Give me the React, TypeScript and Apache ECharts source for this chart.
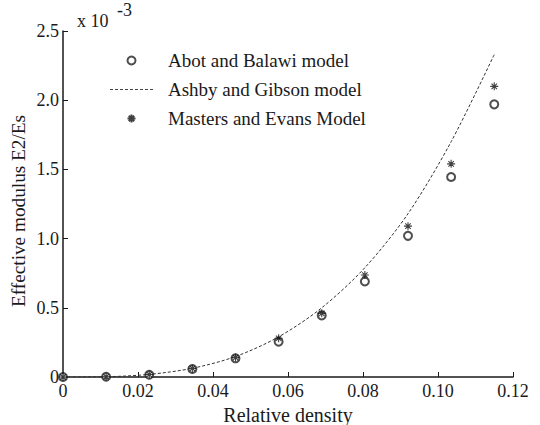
import React, { useEffect, useRef } from "react";
import * as echarts from "echarts";

const density = [0, 0.0115, 0.023, 0.0345, 0.046, 0.0575, 0.069, 0.0805, 0.092, 0.1035, 0.115];
const abotBalawi = [0, 0.002, 0.016, 0.058, 0.135, 0.255, 0.445, 0.69, 1.02, 1.445, 1.97];
const ashbyGibson = [0, 0.002, 0.019, 0.063, 0.148, 0.29, 0.5, 0.79, 1.18, 1.7, 2.33];
const mastersEvans = [0, 0.002, 0.018, 0.062, 0.14, 0.28, 0.46, 0.737, 1.09, 1.54, 2.1];

const seriesNames = ["Abot and Balawi model", "Ashby and Gibson model", "Masters and Evans Model"];
const xAxisName = "Relative density";
const yAxisName = "Effective modulus E2/Es";

const FONT = "Liberation Serif, serif";
const INK = "#1a1a1a";

const starPath = "path://M5 0 L5 10 M0 5 L10 5 M1.6 1.6 L8.4 8.4 M1.6 8.4 L8.4 1.6";
const dashIcon =
  "path://M0 0h3v1h-3z M5 0h3v1h-3z M10 0h3v1h-3z M15 0h3v1h-3z M20 0h3v1h-3z M25 0h3v1h-3z M30 0h3v1h-3z M35 0h3v1h-3z M40 0h3v1h-3z";

export default function App() {
  const ref = useRef<HTMLDivElement>(null);
  useEffect(() => {
    document.body.style.margin = "0";
    if (!ref.current) return;
    const chart = echarts.init(ref.current, null, { renderer: "svg" });
    const pair = (ys: number[]) => density.map((x, i) => [x, ys[i]]);
    chart.setOption({
      animation: false,
      backgroundColor: "#ffffff",
      textStyle: { fontFamily: FONT },
      grid: { left: 63, right: 27, top: 31, bottom: 48, outerBoundsMode: "none", containLabel: false },
      legend: {
        orient: "vertical",
        left: 105,
        top: 46,
        itemWidth: 43,
        itemHeight: 8,
        itemGap: 10,
        data: [
          { name: seriesNames[0] },
          { name: seriesNames[1], icon: dashIcon, itemStyle: { color: "#444" } },
          { name: seriesNames[2] },
        ],
        textStyle: { fontFamily: FONT, fontSize: 19, color: INK, lineHeight: 19, padding: [0, 0, 0, 10] },
      },
      xAxis: {
        type: "value",
        min: 0,
        max: 0.12,
        interval: 0.02,
        name: xAxisName,
        nameLocation: "middle",
        nameGap: 25,
        nameTextStyle: { fontFamily: FONT, fontSize: 20, color: INK },
        axisLine: { lineStyle: { color: INK, width: 1.5 } },
        axisTick: { inside: true, length: 5, lineStyle: { color: INK } },
        axisLabel: {
          fontFamily: FONT,
          fontSize: 18,
          color: INK,
          margin: 5,
          formatter: (v: number) => (v === 0 ? "0" : v.toFixed(2)),
        },
        splitLine: { show: false },
      },
      yAxis: {
        type: "value",
        min: 0,
        max: 2.5,
        interval: 0.5,
        axisLine: { show: true, lineStyle: { color: INK, width: 1.5 } },
        axisTick: { show: true, inside: true, length: 5, lineStyle: { color: INK } },
        axisLabel: {
          fontFamily: FONT,
          fontSize: 18,
          color: INK,
          margin: 4,
          formatter: (v: number) => (v === 0 ? "0" : v.toFixed(1)),
        },
        splitLine: { show: false },
      },
      graphic: [
        { type: "text", left: 77, top: 12, style: { text: "x 10", fontFamily: FONT, fontSize: 18, fill: INK } },
        { type: "text", left: 117, top: 1, style: { text: "-3", fontFamily: FONT, fontSize: 18, fill: INK } },
        {
          type: "text",
          x: 19,
          y: 211,
          rotation: Math.PI / 2,
          scaleX: 1.07,
          style: {
            text: yAxisName,
            fontFamily: FONT,
            fontSize: 18,
            fill: INK,
            align: "center",
            verticalAlign: "middle",
          },
        },
      ],
      series: [
        {
          name: seriesNames[0],
          type: "scatter",
          data: pair(abotBalawi),
          symbol: "emptyCircle",
          symbolSize: 8,
          itemStyle: { color: "#222", borderWidth: 1.2 },
          z: 3,
        },
        {
          name: seriesNames[1],
          type: "line",
          data: pair(ashbyGibson),
          smooth: 0.3,
          symbol: "none",
          showSymbol: false,
          lineStyle: { color: "#333", width: 1, type: [3, 2] },
          itemStyle: { color: "#333" },
          z: 2,
        },
        {
          name: seriesNames[2],
          type: "scatter",
          data: pair(mastersEvans),
          symbol: starPath,
          symbolSize: 8,
          itemStyle: { color: "none", borderColor: "#111", borderWidth: 1.1 },
          z: 4,
        },
      ],
    });
    return () => chart.dispose();
  }, []);
  return <div ref={ref} style={{ width: 540, height: 425 }} />;
}
